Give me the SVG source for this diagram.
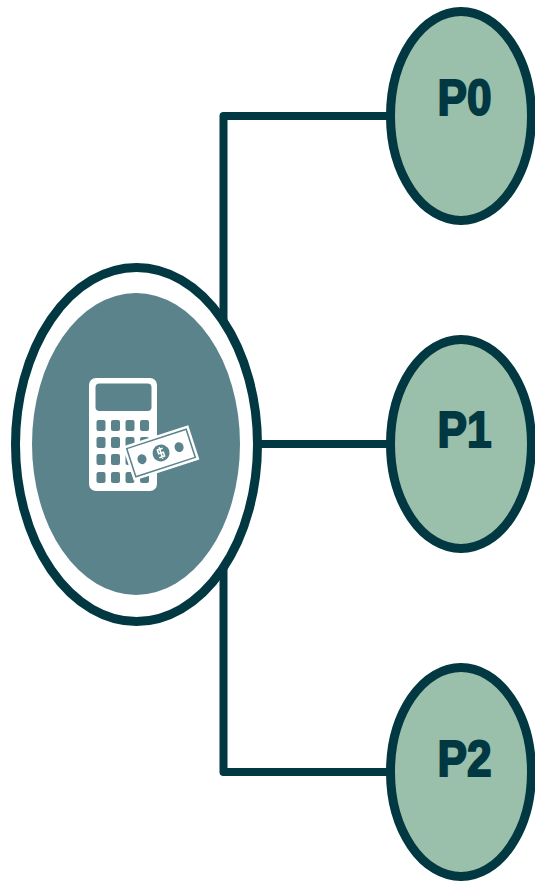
<svg xmlns="http://www.w3.org/2000/svg" width="535" height="881" viewBox="0 0 535 881">
<style>
.w{fill:none;stroke:#013841;stroke-width:8;stroke-linejoin:round}
.p{fill:#9abfaa;stroke:#013841;stroke-width:9}
.t{font-family:"Liberation Sans",Arial,sans-serif;font-weight:700;font-size:50px;fill:#013841;stroke:#013841;stroke-width:2}
.k{fill:#5b838c}
</style>
<rect width="535" height="881" fill="#fff"/>
<g id="connectors">
<path class="w" d="M390 116H223.500V772H390"/>
<path class="w" d="M223.500 444H390"/>
</g>
<g id="center">
<ellipse cx="136.500" cy="444.500" rx="121" ry="177" fill="#fff" stroke="#013841" stroke-width="9"/>
<ellipse cx="136" cy="444" rx="104" ry="151" fill="#5b838c"/>
<g id="icon">
<rect x="89" y="378" width="68" height="113" rx="7" fill="#fff"/>
<rect x="95.500" y="383.500" width="56" height="27.500" rx="4" class="k"/>
<g class="k">
<rect x="96.500" y="420" width="9" height="11" rx="2"/><rect x="111" y="420" width="9" height="11" rx="2"/><rect x="125.500" y="420" width="9" height="11" rx="2"/><rect x="140" y="420" width="9" height="11" rx="2"/>
<rect x="96.500" y="437" width="9" height="11" rx="2"/><rect x="111" y="437" width="9" height="11" rx="2"/><rect x="125.500" y="437" width="9" height="11" rx="2"/><rect x="140" y="437" width="9" height="11" rx="2"/>
<rect x="96.500" y="454" width="9" height="11" rx="2"/><rect x="111" y="454" width="9" height="11" rx="2"/><rect x="125.500" y="454" width="9" height="11" rx="2"/><rect x="140" y="454" width="9" height="11" rx="2"/>
<rect x="96.500" y="472" width="9" height="11" rx="2"/><rect x="111" y="472" width="9" height="11" rx="2"/><rect x="125.500" y="472" width="9" height="11" rx="2"/><rect x="140" y="472" width="9" height="11" rx="2"/>
</g>
<g transform="translate(161 453) rotate(-18)">
<rect x="-34.500" y="-18" width="69" height="36" fill="#fff"/>
<rect x="-32" y="-15.500" width="64" height="31" class="k"/>
<rect x="-30.500" y="-14" width="61" height="28" fill="#fff"/>
<circle cx="0" cy="0" r="8.500" class="k"/>
<ellipse cx="19" cy="0" rx="4.500" ry="5" class="k"/>
<ellipse cx="-20" cy="0" rx="4.500" ry="5" class="k"/>
<path d="M3 -4H-2.500V0H2.500V4H-3M0 -6V6" fill="none" stroke="#fff" stroke-width="1.500"/>
</g>
</g>
</g>
<g id="P0">
<ellipse class="p" cx="461" cy="116" rx="70.500" ry="104.500"/>
<text class="t" x="437.500" y="114.500" textLength="54" lengthAdjust="spacingAndGlyphs">P0</text>
</g>
<g id="P1">
<ellipse class="p" cx="461" cy="444" rx="70.500" ry="104.500"/>
<text class="t" x="437.500" y="446.500" textLength="54" lengthAdjust="spacingAndGlyphs">P1</text>
</g>
<g id="P2">
<ellipse class="p" cx="461" cy="772" rx="70.500" ry="104.500"/>
<text class="t" x="437.500" y="775.500" textLength="54" lengthAdjust="spacingAndGlyphs">P2</text>
</g>
</svg>
